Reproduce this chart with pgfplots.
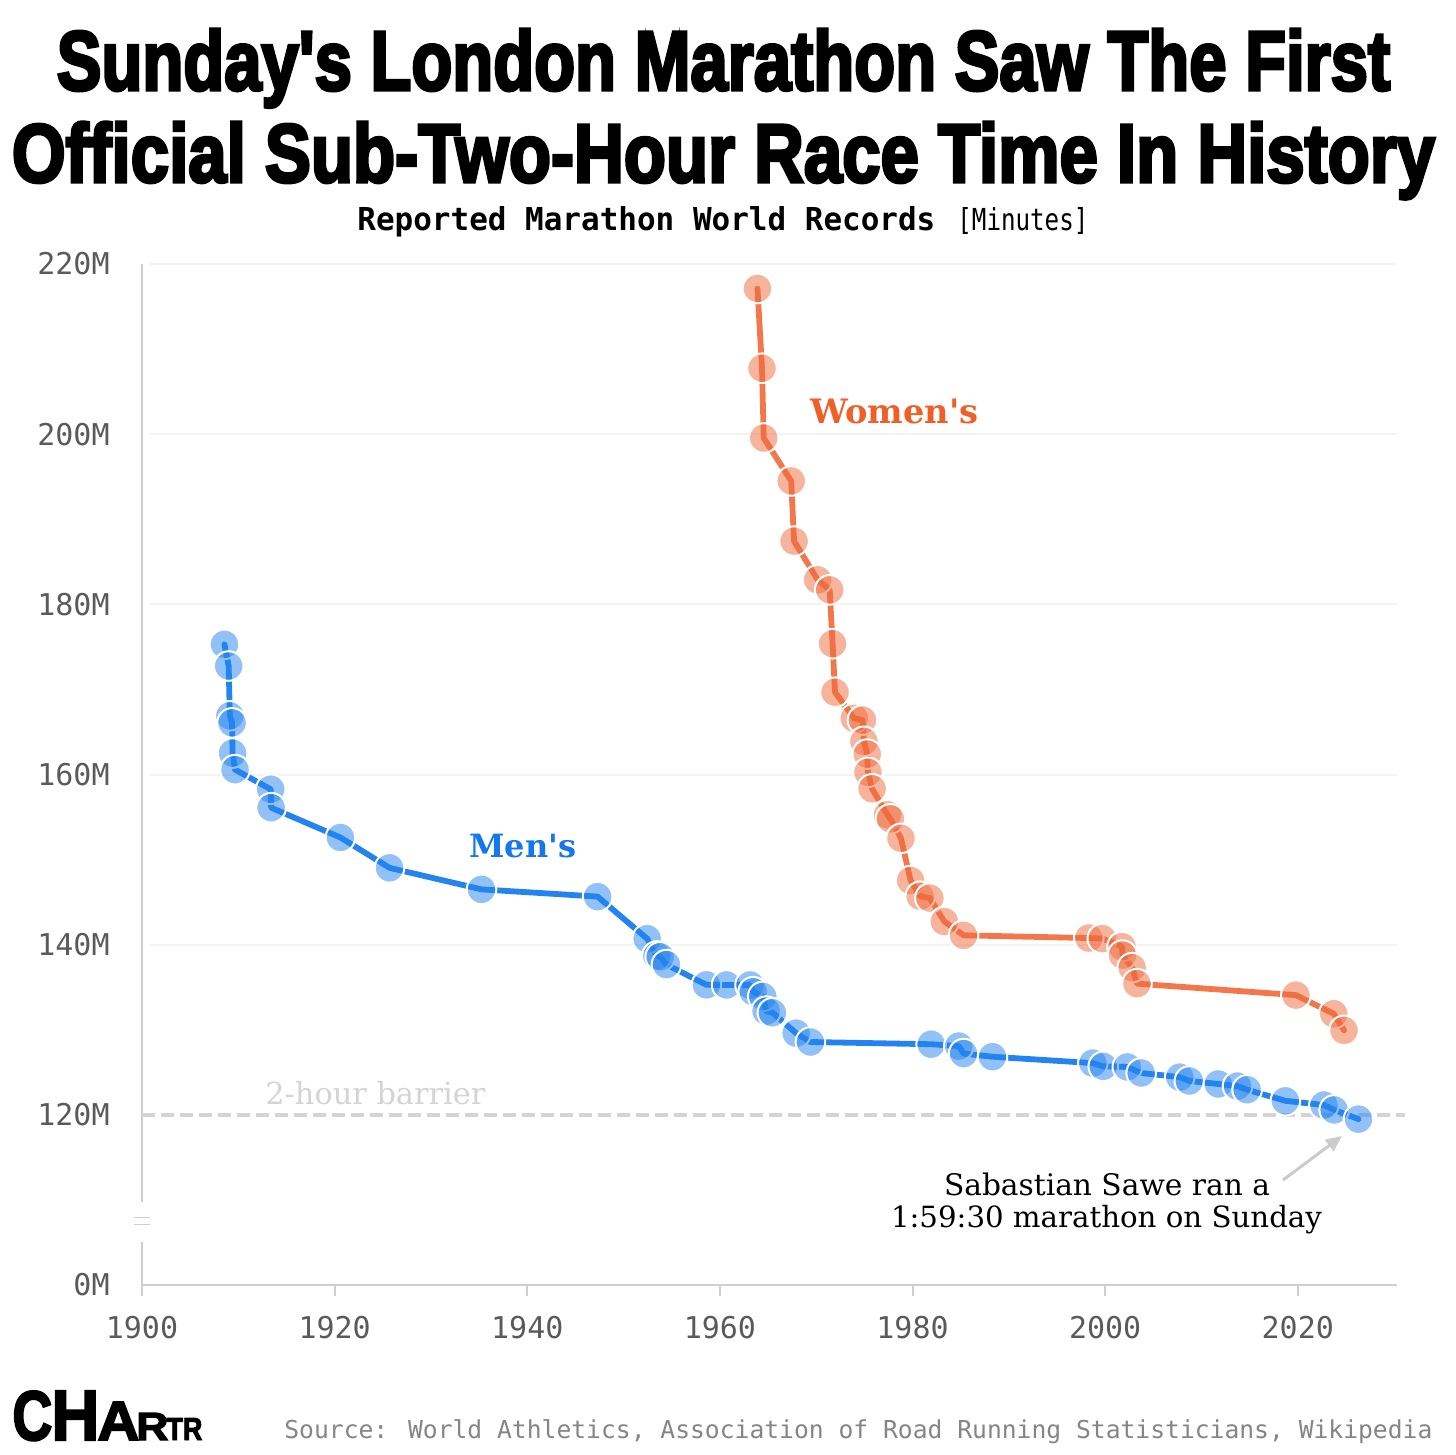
\documentclass[border=0pt]{standalone}
\usepackage{pgfplots}
\pgfplotsset{compat=1.18}
\usepackage{fontspec}
\usepackage{graphicx}
\usetikzlibrary{arrows.meta}
\setmainfont{DejaVu Serif}[Ligatures=TeXOff]
\newfontfamily\titlefont{Liberation Sans}[Ligatures=TeXOff,FakeBold=4]
\newfontfamily\logofont{Liberation Sans}[Ligatures=TeXOff,FakeBold=3]
\newfontfamily\monofont{DejaVu Sans Mono}
\newfontfamily\seriffont{DejaVu Serif}[Ligatures=TeXOff]
\definecolor{menc}{HTML}{2383EF}
\definecolor{womenc}{HTML}{F2784C}
\definecolor{womenfill}{HTML}{EF6A3C}
\definecolor{mentext}{HTML}{1478EB}
\definecolor{womentext}{HTML}{F05F28}
\definecolor{axgray}{HTML}{CFCFCF}
\definecolor{ticgray}{HTML}{5A5A5A}
\definecolor{srcgray}{HTML}{858585}
\definecolor{gridc}{HTML}{F3F3F3}
\definecolor{barrier}{HTML}{D4D4D4}

\pgfplotstableread{
year min
1908.56 175.3
1909.00 172.75
1909.12 166.9
1909.35 166.07
1909.40 162.52
1909.66 160.57
1913.36 158.27
1913.41 156.1
1920.60 152.6
1925.70 149.03
1935.25 146.5
1947.30 145.65
1952.45 140.7
1953.45 138.67
1953.80 138.58
1954.45 137.66
1958.60 135.28
1960.70 135.27
1963.13 135.26
1963.46 134.47
1964.45 133.92
1964.80 132.19
1965.45 132.0
1967.92 129.6
1969.40 128.56
1981.93 128.3
1984.80 128.08
1985.30 127.2
1988.30 126.83
1998.72 126.08
1999.80 125.7
2002.30 125.63
2003.74 124.92
2007.74 124.43
2008.74 123.98
2011.74 123.63
2013.74 123.38
2014.74 122.95
2018.71 121.65
2022.71 121.15
2023.78 120.58
2026.30 119.5
}\mentable

\pgfplotstableread{
year min
1963.90 217.12
1964.37 207.75
1964.55 199.55
1967.40 194.5
1967.70 187.43
1970.15 182.88
1971.40 181.7
1971.70 175.37
1971.95 169.67
1973.95 166.6
1974.80 166.4
1974.95 163.9
1975.30 162.4
1975.37 160.26
1975.80 158.32
1977.40 155.26
1977.70 154.79
1978.80 152.5
1979.80 147.54
1980.80 145.69
1981.80 145.48
1983.30 142.72
1985.30 141.1
1998.30 140.78
1999.70 140.72
2001.75 139.77
2001.80 138.78
2002.80 137.3
2003.30 135.42
2019.80 134.07
2023.73 131.88
2024.80 129.93
}\womentable

\begin{document}
\begin{tikzpicture}
\path[use as bounding box] (0,0) rectangle (728pt,-727.5pt);

\begin{axis}[
  at={(71pt,-642.5pt)}, anchor=south west,
  scale only axis, width=627.5pt, height=510.5pt,
  xmin=1900, xmax=2030.3, ymin=100, ymax=220,
  clip=false,
  axis x line*=bottom, axis y line*=left,
  x axis line style={draw=axgray, line width=1pt},
  y axis line style={draw=none},
  xtick={1900,1920,1940,1960,1980,2000,2020},
  xticklabels={1900,1920,1940,1960,1980,2000,2020},
  ytick={100,120,140,160,180,200,220},
  yticklabels={0M,120M,140M,160M,180M,200M,220M},
  xtick align=outside,
  major tick length=5.5pt,
  xtick style={draw=axgray, line width=1pt},
  ytick style={draw=none},
  xticklabel style={font=\monofont\fontsize{15}{15}\selectfont, text=ticgray, inner sep=0pt, yshift=-10pt},
  yticklabel style={font=\monofont\fontsize{15}{15}\selectfont, text=ticgray, inner sep=0pt, anchor=east, xshift=-16pt},
]
% grid lines
\foreach \g in {140,160,180,200,220}{
  \edef\tmp{\noexpand\draw[gridc, line width=1pt] (axis cs:1900.8,\g) -- (axis cs:2030.3,\g);}\tmp
}
% y axis with break
\draw[axgray, line width=1pt] (axis cs:1900,220) -- (axis cs:1900,109.7);
\draw[axgray, line width=1pt] (axis cs:1900,105.0) -- (axis cs:1900,100);
\draw[axgray, line width=0.6pt] ([xshift=-4pt]axis cs:1900,107.9) -- ([xshift=4pt]axis cs:1900,107.9);
\draw[axgray, line width=0.6pt] ([xshift=-4pt]axis cs:1900,107.1) -- ([xshift=4pt]axis cs:1900,107.1);
% 2-hour barrier
\draw[barrier, line width=2pt, dash pattern=on 6.5pt off 3pt] (axis cs:1900,120) -- (axis cs:2031.1,120);

\addplot[womenc, line width=2.9pt, line join=round, line cap=round,
  mark=*, mark size=7.4pt,
  mark options={fill=womenfill, fill opacity=0.5, draw=white, draw opacity=1, line width=1pt}]
  table[x=year,y=min] {\womentable};
\addplot[menc, line width=2.9pt, line join=round, line cap=round,
  mark=*, mark size=7.4pt,
  mark options={fill=menc, fill opacity=0.5, draw=white, draw opacity=1, line width=1pt}]
  table[x=year,y=min] {\mentable};
\end{axis}

\begin{scope}[x=0.5pt, y=-0.5pt]
% title
\node[anchor=base, inner sep=0pt] at (723.5,90) {\resizebox{666.5pt}{30.5pt}{\titlefont\bfseries Sunday's London Marathon Saw The First}};
\node[anchor=base, inner sep=0pt] at (723.5,182) {\resizebox{711.5pt}{30pt}{\titlefont\bfseries Official Sub-Two-Hour Race Time In History}};
% subtitle
\node[anchor=base west, inner sep=0pt] at (357,231) {\resizebox{289pt}{12pt}{\monofont\bfseries Reported Marathon World Records}};
\node[anchor=base west, inner sep=0pt] at (957,231) {\resizebox{65.5pt}{11.5pt}{\monofont [Minutes]}};
% series labels
\node[anchor=base west, inner sep=0pt] at (810,423) {\resizebox{84pt}{!}{\seriffont\bfseries\color{womentext}Women's}};
\node[anchor=base west, inner sep=0pt] at (469,857) {\resizebox{53.5pt}{!}{\seriffont\bfseries\color{mentext}Men's}};
\node[anchor=base west, inner sep=0pt] at (265,1104) {\resizebox{110pt}{!}{\seriffont\color{barrier}2-hour barrier}};
% annotation
\node[anchor=base, inner sep=0pt] at (1107,1195) {\resizebox{163pt}{!}{\seriffont Sabastian Sawe ran a}};
\node[anchor=base, inner sep=0pt] at (1106.5,1227) {\resizebox{215.5pt}{!}{\seriffont 1:59:30 marathon on Sunday}};
\draw[barrier!90!gray, line width=1.5pt, -{Triangle[length=8pt,width=7pt]}] (1283,1180) -- (1342,1136);
% source
\node[anchor=base west, inner sep=0pt] at (284,1438) {\resizebox{574pt}{!}{\monofont\color{srcgray}Source: World Athletics, Association of Road Running Statisticians, Wikipedia}};
% logo
\node[anchor=base west, inner sep=0pt] at (12,1440) {\logofont\bfseries
  \resizebox{20pt}{24.5pt}{C}\kern-0.5pt\resizebox{24pt}{24.5pt}{H}\kern-1pt\resizebox{21pt}{19pt}{A}\kern-1.5pt\resizebox{16pt}{13.5pt}{R}\kern-1pt\resizebox{18pt}{11pt}{TR}};
\end{scope}
\end{tikzpicture}
\end{document}
